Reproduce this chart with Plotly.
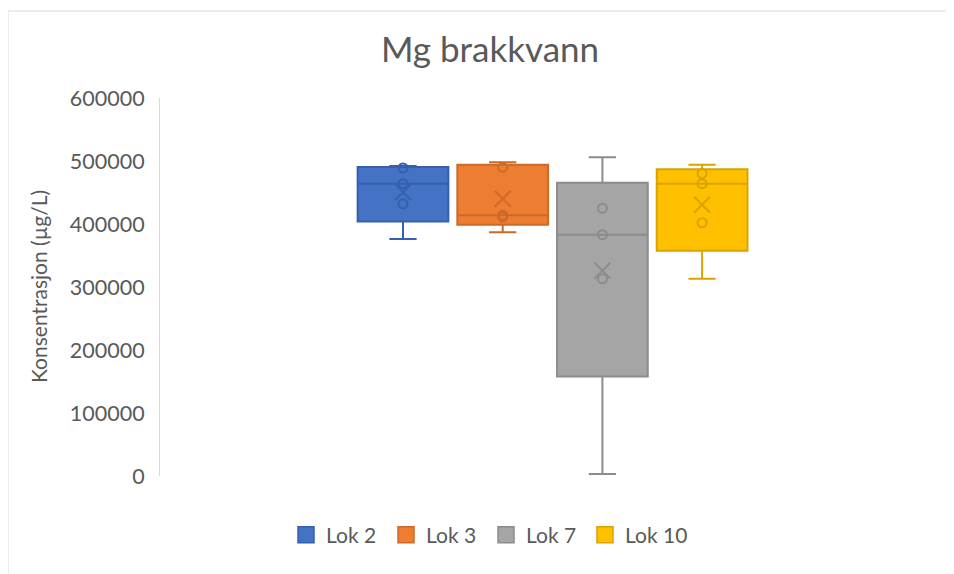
import numpy as np
import plotly.graph_objects as go

# ---- data ----
series_names = ["Lok 2", "Lok 3", "Lok 7", "Lok 10"]
lok2 = [376000, 432000, 464000, 489000, 492000]
lok3 = [387000, 411000, 414000, 490000, 498000]
lok7 = [3000, 313000, 383000, 425000, 506000]
lok10 = [313000, 402000, 464000, 480000, 494000]
series_values = [lok2, lok3, lok7, lok10]
y_ticks = [0, 100000, 200000, 300000, 400000, 500000, 600000]

fill_colors = ["#4472C4", "#ED7D31", "#A5A5A5", "#FFC000"]
line_colors = ["#3460AE", "#CC6A28", "#8C8C8C", "#D9A300"]

# page is offset by the default 8px body margin
OFF = 8
W, H = 954 - OFF, 574 - OFF
# target plot area in page pixels: x 160..944, y 98..476
ML = 160 - OFF
MR = W - (944 - OFF)
MT = 98 - OFF
MB = H - (476 - OFF)
PW = W - ML - MR
PH = H - MT - MB

TXT = "#595959"
FONT = "Lato"


def px_x(page_px):
    return (page_px - OFF - ML) / PW


def px_y(page_py):
    return (H - MB - (page_py - OFF)) / PH


fig = go.Figure()
for i, (name, vals) in enumerate(zip(series_names, series_values)):
    fig.add_trace(go.Box(
        y=vals, x0=i, name=name,
        boxpoints=False, quartilemethod="exclusive",
        fillcolor=fill_colors[i],
        line=dict(color=line_colors[i], width=2),
        width=0.91, whiskerwidth=0.3,
        hoverinfo="y", showlegend=False,
    ))
for i, vals in enumerate(series_values):
    s = sorted(vals)
    inner = s[1:-1]
    fig.add_trace(go.Scatter(
        x=[i] * len(inner), y=inner, mode="markers", showlegend=False,
        marker=dict(symbol="circle-open", size=9,
                    line=dict(color=line_colors[i], width=2), color=line_colors[i]),
        hoverinfo="y",
    ))
    fig.add_trace(go.Scatter(
        x=[i], y=[float(np.mean(vals))], mode="markers", showlegend=False,
        marker=dict(symbol="x-thin-open", size=16,
                    line=dict(color=line_colors[i], width=2), color=line_colors[i]),
        hoverinfo="y",
    ))
# legend entries (filled squares like the reference)
for i, name in enumerate(series_names):
    fig.add_trace(go.Scatter(
        x=[None], y=[None], mode="markers", name=name, showlegend=True,
        legend="legend2" if i == len(series_names) - 1 else "legend",
        marker=dict(symbol="square", size=18, color=fill_colors[i],
                    line=dict(color=line_colors[i], width=1.5)),
    ))

# x range so boxes sit at their pixel positions (centres ~403..702 px)
px_per_unit = 99.7
x_left = 0 - (403 - 160) / px_per_unit
x_right = x_left + PW / px_per_unit

legend_common = dict(orientation="h", xanchor="left", y=px_y(535), yanchor="middle",
                     font=dict(size=21, color=TXT, family=FONT), itemclick=False,
                     itemsizing="trace", bgcolor="rgba(0,0,0,0)")

fig.update_layout(
    width=W, height=H,
    margin=dict(l=ML, r=MR, t=MT, b=MB),
    paper_bgcolor="white", plot_bgcolor="white",
    font=dict(family=FONT, color=TXT),
    title=dict(text="Mg brakkvann", x=px_x(490), xref="paper", xanchor="center",
               y=1 - (50 - OFF) / H, yref="container", yanchor="middle",
               font=dict(size=35, color=TXT, family=FONT)),
    xaxis=dict(range=[x_left, x_right], showticklabels=False, showgrid=False,
               zeroline=False, showline=False, ticks=""),
    yaxis=dict(range=[0, 600000], tickvals=y_ticks, ticktext=[str(v) for v in y_ticks],
               showgrid=False, zeroline=False, showline=True, linecolor="#D9D9D9",
               linewidth=1, ticks="", ticklabelstandoff=10,
               tickfont=dict(size=21.5, color=TXT, family=FONT)),
    legend=dict(x=px_x(286), entrywidth=55, entrywidthmode="pixels", **legend_common),
    legend2=dict(x=px_x(585), **legend_common),
    showlegend=True,
    annotations=[dict(text="Konsentrasjon (µg/L)", textangle=-90, x=px_x(38), y=px_y(287),
                      xref="paper", yref="paper", showarrow=False, xanchor="center",
                      yanchor="middle", font=dict(size=21, color=TXT, family=FONT))],
    shapes=[
        dict(type="line", xref="paper", yref="paper", x0=px_x(8), x1=px_x(960),
             y0=px_y(11), y1=px_y(11), line=dict(color="#D9D9D9", width=1)),
        dict(type="line", xref="paper", yref="paper", x0=px_x(8), x1=px_x(8),
             y0=px_y(11), y1=px_y(580), line=dict(color="#D9D9D9", width=1)),
    ],
)

fig.write_html("out.html")
